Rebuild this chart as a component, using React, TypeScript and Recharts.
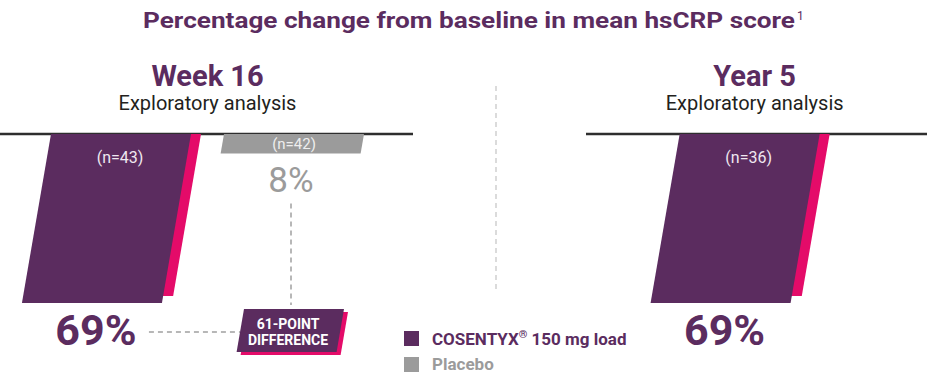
import { Bar, BarChart, Customized, LabelList, Legend, XAxis, YAxis } from 'recharts'

// % change from baseline in mean hsCRP (negative = reduction)
const periods = ['Week 16', '', 'Year 5']
const subtitles = ['Exploratory analysis', '', 'Exploratory analysis']
const cosentyx = [-69, null, -69]
const placebo = [-8, null, null]
const cosentyxN = ['(n=43)', '', '(n=36)']
const placeboN = ['(n=42)', '', '']

const TITLE = 'Percentage change from baseline in mean hsCRP score'
const COS_NAME = 'COSENTYX® 150 mg load'
const PBO_NAME = 'Placebo'

const PURPLE = '#5b2c5f'
const PINK = '#e40b69'
const GRAY = '#9b9b9b'
const FONT = 'Roboto, "Noto Sans", sans-serif'

const W = 1000
const H = 374
const MARGIN = { top: 134, right: 7, left: 50, bottom: 44 }
const BAR_SIZE = 140
const BAR_GAP = 33
const SLOPE = 0.172
const SHADOW_X = 10
const SHADOW_Y = 7

const data = periods.map((period, i) => ({
  period,
  cosentyx: cosentyx[i],
  placebo: placebo[i],
  cosN: cosentyxN[i],
  pboN: placeboN[i],
}))

const pct = (v: number) => `${Math.abs(v)}%`

function box(props: any) {
  const { x, y, width, height } = props
  const top = Math.min(y, y + height)
  return { x, top, w: width, h: Math.abs(height) }
}

function slant(x: number, top: number, w: number, h: number) {
  const s = h * SLOPE
  return `${x},${top} ${x + w},${top} ${x + w - s},${top + h} ${x - s},${top + h}`
}

function SlantedBar(props: any) {
  const { fill, shadow } = props
  const b = box(props)
  if (!b.h) return null
  return (
    <g>
      {shadow && <polygon points={slant(b.x + SHADOW_X, b.top, b.w, b.h - SHADOW_Y)} fill={PINK} />}
      <polygon points={slant(b.x, b.top, b.w, b.h)} fill={fill} />
    </g>
  )
}

// period heading, centred over the bars drawn in that group
function Heading(props: any) {
  const { value } = props
  const i = periods.indexOf(value)
  const b = box(props)
  if (!value || i < 0) return null
  const hasPbo = placebo[i] != null
  const right = hasPbo ? b.x + 2 * BAR_SIZE + BAR_GAP : b.x + BAR_SIZE + SHADOW_X
  const cx = (b.x + right) / 2
  return (
    <g fontFamily={FONT} textAnchor="middle">
      <text x={cx} y={86} fontSize={29} fontWeight={700} fill={PURPLE}>
        {value}
      </text>
      <text x={cx} y={110} fontSize={20} fill="#231f20">
        {subtitles[i]}
      </text>
    </g>
  )
}

function CosN(props: any) {
  const { value } = props
  const b = box(props)
  if (!value || !b.h) return null
  return (
    <text x={b.x + b.w / 2 - 1} y={b.top + 29} textAnchor="middle" fontFamily={FONT} fontSize={16} fill="#efe8f0">
      {value}
    </text>
  )
}

function CosValue(props: any) {
  const { value } = props
  const b = box(props)
  if (value == null || !b.h) return null
  const cx = b.x + b.w / 2 - b.h * SLOPE + 4
  return (
    <text x={cx} y={b.top + b.h + 42} textAnchor="middle" fontFamily={FONT} fontSize={43} fontWeight={700} fill={PURPLE}>
      {pct(value)}
    </text>
  )
}

function PboN(props: any) {
  const { value } = props
  const b = box(props)
  if (!value || !b.h) return null
  return (
    <text x={b.x + b.w / 2} y={b.top + 15} textAnchor="middle" fontFamily={FONT} fontSize={15} fill="#eeeeee">
      {value}
    </text>
  )
}

// placebo value + the "N-POINT DIFFERENCE" callout
function PboValue(props: any) {
  const { value } = props
  const b = box(props)
  if (value == null || !b.h) return null
  const i = placebo.indexOf(value)
  const cos = cosentyx[i] as number
  const perUnit = b.h / Math.abs(value)
  const cosH = Math.abs(cos) * perUnit
  const cosBottom = b.top + cosH
  const cx = b.x + b.w / 2 - 3
  const diff = Math.abs(cos) - Math.abs(value)

  const bt = cosBottom + 6
  const bh = 43
  const bx = cx - 47
  const bw = 100
  const cosX = b.x - BAR_GAP - BAR_SIZE
  const cosLabelRight = cosX + BAR_SIZE / 2 - cosH * SLOPE + 4 + 53
  const ly = cosBottom + 29

  return (
    <g fontFamily={FONT}>
      <text x={cx} y={b.top + b.h + 38} textAnchor="middle" fontSize={35} fill={GRAY}>
        {pct(value)}
      </text>
      <line x1={cx} x2={cx} y1={b.top + b.h + 50} y2={cosBottom + 2} stroke="#a0a0a0" strokeWidth={1.5} strokeDasharray="5 4" />
      <line x1={cosLabelRight} x2={bx - (ly - bt) * SLOPE} y1={ly} y2={ly} stroke="#a0a0a0" strokeWidth={1.5} strokeDasharray="5 4" />
      <polygon points={slant(bx + 4, bt + 3, bw, bh)} fill={PINK} />
      <polygon points={slant(bx, bt, bw, bh)} fill={PURPLE} />
      <text x={cx - 3} y={bt + 20} textAnchor="middle" fontSize={14} fontWeight={700} fill="#fff">
        {`${diff}-POINT`}
      </text>
      <text x={cx - 3} y={bt + 36} textAnchor="middle" fontSize={14} fontWeight={700} fill="#fff">
        DIFFERENCE
      </text>
    </g>
  )
}

function Decor() {
  return (
    <g fontFamily={FONT}>
      <text
        x={143}
        y={28}
        fontSize={22}
        fontWeight={700}
        fill={PURPLE}
        textLength={652}
        lengthAdjust="spacingAndGlyphs"
      >
        {TITLE}
      </text>
      <text x={797} y={20} fontSize={12} fill={PURPLE}>
        1
      </text>
      <line x1={496} x2={496} y1={86} y2={291} stroke="#cfcfcf" strokeWidth={1.5} strokeDasharray="5 4" />
      <line x1={0} x2={413} y1={MARGIN.top} y2={MARGIN.top} stroke="#2e2e2e" strokeWidth={2.5} />
      <line x1={586} x2={927} y1={MARGIN.top} y2={MARGIN.top} stroke="#2e2e2e" strokeWidth={2.5} />
    </g>
  )
}

function LegendContent({ payload }: any) {
  return (
    <div style={{ fontFamily: FONT }}>
      {(payload || []).map((p: any) => {
        const [a, b] = String(p.value).split('®')
        return (
          <div key={p.value} style={{ display: 'flex', alignItems: 'center', height: 26 }}>
            <span style={{ display: 'inline-block', width: 15, height: 15, background: p.color, marginRight: 13 }} />
            <span style={{ color: p.color, fontWeight: 700, fontSize: 17, whiteSpace: 'nowrap' }}>
              {a}
              {b !== undefined && (
                <>
                  <sup style={{ fontSize: 11 }}>®</sup>
                  {b}
                </>
              )}
            </span>
          </div>
        )
      })}
    </div>
  )
}

export default function App() {
  return (
    <div style={{ position: 'absolute', left: 0, top: 0, width: 927, height: H, overflow: 'hidden', background: '#fff' }}>
      <BarChart width={W} height={H} data={data} margin={MARGIN} barSize={BAR_SIZE} barGap={BAR_GAP}>
        <XAxis dataKey="period" hide />
        <YAxis type="number" domain={[-80, 0]} hide />
        <Customized component={Decor} />
        <Legend
          layout="vertical"
          align="center"
          verticalAlign="middle"
          content={<LegendContent />}
          wrapperStyle={{ left: 404, top: 325, width: 260 }}
        />
        <Bar
          dataKey="cosentyx"
          name={COS_NAME}
          fill={PURPLE}
          legendType="square"
          shape={(p: any) => <SlantedBar {...p} shadow />}
          isAnimationActive={false}
        >
          <LabelList dataKey="period" content={Heading} />
          <LabelList dataKey="cosN" content={CosN} />
          <LabelList dataKey="cosentyx" content={CosValue} />
        </Bar>
        <Bar
          dataKey="placebo"
          name={PBO_NAME}
          fill={GRAY}
          legendType="square"
          shape={(p: any) => <SlantedBar {...p} />}
          isAnimationActive={false}
        >
          <LabelList dataKey="pboN" content={PboN} />
          <LabelList dataKey="placebo" content={PboValue} />
        </Bar>
      </BarChart>
    </div>
  )
}
